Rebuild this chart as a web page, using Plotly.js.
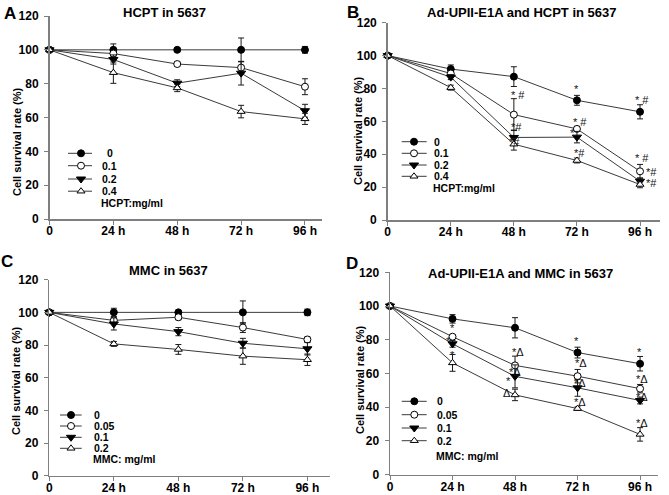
<!DOCTYPE html>
<html>
<head>
<meta charset="utf-8">
<script src="https://cdn.plot.ly/plotly-3.0.1.min.js"></script>
<style>html,body{margin:0;padding:0;background:#fff;}#chart{width:669px;height:495px;}</style>
</head>
<body>
<div id="chart"></div>
<script>
// ---------- data ----------
const hours = [0, 24, 48, 72, 96];
const hourLabels = ['0', '24 h', '48 h', '72 h', '96 h'];

// Panel A: HCPT in 5637
const hcptDoses = ['0', '0.1', '0.2', '0.4'];
const A_0 = [100, 100, 100, 100, 100];     const A_0_err = [0, 3.5, 1, 7, 2];
const A_01 = [100, 97.8, 91.6, 89.5, 78.2]; const A_01_err = [0, 2, 1.2, 3.5, 4.7];
const A_02 = [100, 94.3, 80.3, 86.2, 64];   const A_02_err = [0, 2.7, 2, 7, 3.8];
const A_04 = [100, 86.5, 77.5, 63.5, 59.2]; const A_04_err = [0, 6.3, 2.2, 3.7, 3.3];

// Panel B: Ad-UPII-E1A and HCPT in 5637
const B_0 = [100, 91.8, 87.2, 72.8, 65.8];  const B_0_err = [0, 2.5, 6, 3, 4.3];
const B_01 = [100, 89.1, 64.1, 55.4, 29.6]; const B_01_err = [0, 1.5, 9.7, 1.5, 4.2];
const B_02 = [100, 86.9, 50.2, 50.4, 23.6]; const B_02_err = [0, 1.5, 4.5, 3.5, 2];
const B_04 = [100, 80.5, 46.1, 36.2, 21.6]; const B_04_err = [0, 1.5, 3.6, 1.5, 2];

// Panel C: MMC in 5637
const mmcDoses = ['0', '0.05', '0.1', '0.2'];
const C_0 = [100, 100, 100, 100, 100];      const C_0_err = [0, 2.5, 1, 7, 2];
const C_005 = [100, 95.1, 97, 90.7, 83.4];  const C_005_err = [0, 2, 1.5, 3, 1.5];
const C_01 = [100, 92.9, 88.2, 81.1, 77.7]; const C_01_err = [0, 3.7, 2.5, 3, 3.8];
const C_02 = [100, 80.7, 77.3, 73.2, 71];   const C_02_err = [0, 1.5, 3, 5, 3.5];

// Panel D: Ad-UPII-E1A and MMC in 5637
const D_0 = [100, 92.4, 87.1, 72.4, 65.8];   const D_0_err = [0, 2.5, 6, 3.2, 4.3];
const D_005 = [100, 81.8, 64.8, 58.4, 51];   const D_005_err = [0, 1, 5.5, 4, 2.5];
const D_01 = [100, 77.6, 58.3, 51.5, 44];    const D_01_err = [0, 2, 6.8, 5, 2];
const D_02 = [100, 66.3, 47.3, 39.2, 23.9];  const D_02_err = [0, 5, 3.4, 1, 4];

// significance labels [hour position, value position, text]
const B_marks = [
  [49.7, 76.0, '* #'], [71.9, 79.5, '*'], [96.6, 73, '* #'],
  [49.1, 56.4, '*#'], [48.2, 47.3, '*#'], [73.2, 59.8, '* #'],
  [70.4, 53.1, '*'], [72.8, 40.6, '*#'], [96.9, 37.5, '* #'],
  [100.4, 29.4, '*#'], [100.4, 22.7, '*#']
];
const D_marks = [
  [24.1, 86.8, '*'], [22.4, 79.1, '*'], [24.1, 71, '*'],
  [49.3, 72.9, '*Δ'], [48, 61.1, '*Δ'], [45.6, 55.8, '*'], [44.8, 48.2, 'Δ'],
  [71.7, 79.4, '*'], [73.2, 66.4, '*Δ'], [73, 54.5, '*Δ'], [73, 42.9, '*Δ'],
  [95.7, 72.9, '*'], [96.9, 56.6, '*Δ'], [96.9, 46.2, '*Δ'], [96.9, 30.8, '*Δ']
];

// ---------- styles ----------
const W = 669, H = 495;
const FONT = 'Liberation Sans, Arial, sans-serif';
const symbols = [
  {symbol: 'circle', color: '#000', size: 7, line: {color: '#000', width: 1}},
  {symbol: 'circle', color: '#fff', size: 7, line: {color: '#000', width: 1}},
  {symbol: 'triangle-down', color: '#000', size: 8, line: {color: '#000', width: 1}},
  {symbol: 'triangle-up', color: '#fff', size: 7, line: {color: '#000', width: 1}}
];

const panels = [
  {ax: '', x0: 49.5, x1: 322, top: 16, bot: 219, xmax: 102.4,
   series: [[A_0, A_0_err], [A_01, A_01_err], [A_02, A_02_err], [A_04, A_04_err]],
   names: hcptDoses, unit: 'HCPT:mg/ml', title: 'HCPT in 5637', titlePos: [164, 12],
   letter: 'A', letterPos: [10, 13], ytitlePos: [17, 142],
   leg: {lx0: 68, lx1: 92, lm: 81, tx: 100, rows: [153.3, 165.7, 179, 191.2], unitY: 202.5}},
  {ax: '2', x0: 387.7, x1: 660, top: 22.7, bot: 220, xmax: 103.6,
   series: [[B_0, B_0_err], [B_01, B_01_err], [B_02, B_02_err], [B_04, B_04_err]],
   names: hcptDoses, unit: 'HCPT:mg/ml', title: 'Ad-UPII-E1A and HCPT in 5637', titlePos: [522, 12],
   letter: 'B', letterPos: [353, 12], ytitlePos: [358, 131], marks: B_marks,
   leg: {lx0: 401.7, lx1: 426.7, lm: 414, tx: 432, rows: [141.7, 153.3, 165, 176.3], unitY: 187.5}},
  {ax: '3', x0: 49.3, x1: 330, top: 279.7, bot: 475.7, xmax: 104.4,
   series: [[C_0, C_0_err], [C_005, C_005_err], [C_01, C_01_err], [C_02, C_02_err]],
   names: mmcDoses, unit: 'MMC: mg/ml', title: 'MMC in 5637', titlePos: [168, 270],
   letter: 'C', letterPos: [7, 261], ytitlePos: [16, 381],
   leg: {lx0: 60, lx1: 81.7, lm: 71, tx: 92, rows: [415, 426, 437.3, 448.3], unitY: 459.3}},
  {ax: '4', x0: 390, x1: 658.3, top: 272.3, bot: 474.7, xmax: 103,
   series: [[D_0, D_0_err], [D_005, D_005_err], [D_01, D_01_err], [D_02, D_02_err]],
   names: mmcDoses, unit: 'MMC: mg/ml', title: 'Ad-UPII-E1A and MMC in 5637', titlePos: [520, 273],
   letter: 'D', letterPos: [352, 263], ytitlePos: [360, 380], marks: D_marks,
   leg: {lx0: 401.7, lx1: 426.7, lm: 414.3, tx: 435, rows: [401.3, 414.7, 428, 440.7], unitY: 456.3}}
];

const traces = [];
const annotations = [];
const layout = {
  width: W, height: H,
  margin: {l: 0, r: 0, t: 0, b: 0},
  paper_bgcolor: '#fff', plot_bgcolor: 'rgba(0,0,0,0)',
  showlegend: false,
  font: {family: FONT, color: '#000'},
  annotations: annotations
};

const bold = (size) => ({family: FONT, size: size, color: '#000', weight: 'bold'});

panels.forEach((p) => {
  const xa = 'xaxis' + p.ax, ya = 'yaxis' + p.ax;
  const xr = 'x' + p.ax, yr = 'y' + p.ax;
  layout[xa] = {
    domain: [p.x0 / W, p.x1 / W], anchor: yr, range: [0, p.xmax],
    tickvals: hours, ticktext: hourLabels, ticks: 'outside', ticklen: 4,
    tickcolor: '#7f7f7f', showline: true, linecolor: '#7f7f7f', linewidth: 1.5,
    showgrid: false, zeroline: false, tickfont: bold(12), fixedrange: true,
    ticklabelstandoff: -4
  };
  layout[ya] = {
    domain: [1 - p.bot / H, 1 - p.top / H], anchor: xr, range: [0, 120],
    tickvals: [0, 20, 40, 60, 80, 100, 120], ticks: 'outside', ticklen: 4,
    tickcolor: '#7f7f7f', showline: true, linecolor: '#7f7f7f', linewidth: 1.5,
    showgrid: false, zeroline: false, tickfont: bold(12), fixedrange: true,
    ticklabelstandoff: 3
  };
  p.series.forEach((s, i) => {
    traces.push({
      type: 'scatter', mode: 'lines+markers', x: hours, y: s[0],
      xaxis: xr, yaxis: yr, name: p.names[i], cliponaxis: false,
      line: {color: '#3a3a3a', width: 1},
      marker: symbols[i],
      error_y: {type: 'data', array: s[1], visible: true, color: '#1a1a1a', thickness: 1, width: 3}
    });
  });
  // in-plot significance labels
  (p.marks || []).forEach((m) => {
    annotations.push({xref: xr, yref: yr, x: m[0], y: m[1], text: m[2], showarrow: false,
      font: {family: FONT, size: 11, color: '#111'}, xanchor: 'center', yanchor: 'middle'});
  });
  // panel title, letter, y-axis title
  annotations.push({xref: 'x5', yref: 'y5', x: p.titlePos[0], y: p.titlePos[1], text: p.title,
    showarrow: false, font: bold(13), xanchor: 'center', yanchor: 'middle'});
  annotations.push({xref: 'x5', yref: 'y5', x: p.letterPos[0], y: p.letterPos[1], text: p.letter,
    showarrow: false, font: bold(17), xanchor: 'center', yanchor: 'middle'});
  annotations.push({xref: 'x5', yref: 'y5', x: p.ytitlePos[0], y: p.ytitlePos[1],
    text: 'Cell survival rate (%)', textangle: -90,
    showarrow: false, font: bold(11), xanchor: 'center', yanchor: 'middle'});
  // custom compact legend
  const L = p.leg;
  p.names.forEach((nm, i) => {
    traces.push({type: 'scatter', mode: 'lines', x: [L.lx0, L.lx1], y: [L.rows[i], L.rows[i]],
      xaxis: 'x5', yaxis: 'y5', line: {color: '#3a3a3a', width: 1}, hoverinfo: 'skip', cliponaxis: false});
    traces.push({type: 'scatter', mode: 'markers', x: [L.lm], y: [L.rows[i]],
      xaxis: 'x5', yaxis: 'y5', marker: symbols[i], hoverinfo: 'skip', cliponaxis: false});
    annotations.push({xref: 'x5', yref: 'y5', x: L.tx + (nm === '0' && p.ax === '' ? 5 : 0), y: L.rows[i], text: nm,
      showarrow: false, font: bold(10.5), xanchor: 'left', yanchor: 'middle'});
  });
  annotations.push({xref: 'x5', yref: 'y5', x: L.tx - 1, y: L.unitY, text: p.unit,
    showarrow: false, font: bold(10.5), xanchor: 'left', yanchor: 'middle'});
});

// overlay axes in pixel units for layout elements
layout.xaxis5 = {domain: [0, 1], range: [0, W], visible: false, fixedrange: true, anchor: 'y5'};
layout.yaxis5 = {domain: [0, 1], range: [H, 0], visible: false, fixedrange: true, anchor: 'x5'};

Plotly.newPlot('chart', traces, layout, {staticPlot: true, displayModeBar: false});
</script>
</body>
</html>
